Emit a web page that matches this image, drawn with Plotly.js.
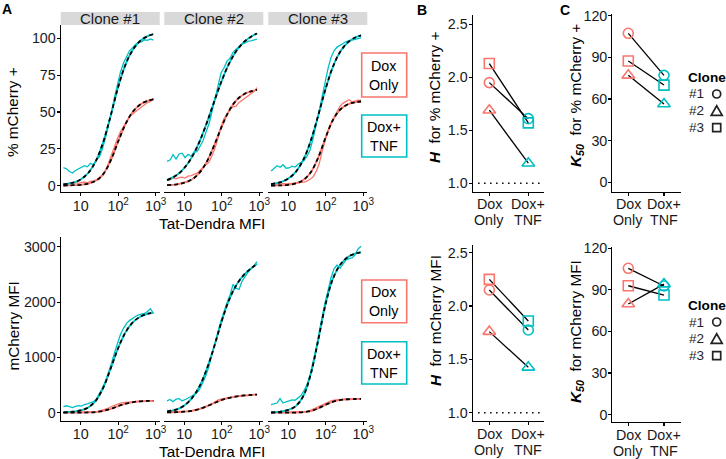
<!DOCTYPE html>
<html>
<head>
<meta charset="utf-8">
<script src="https://cdn.plot.ly/plotly-3.0.1.min.js"></script>
<style>html,body{margin:0;padding:0;background:#fff;}#chart{width:726px;height:459px;}</style>
</head>
<body>
<div id="chart"></div>
<script>
// ---------- DATA ----------
const clones = ['Clone #1', 'Clone #2', 'Clone #3'];
const cloneKeys = ['#1', '#2', '#3'];
const conditions = ['Dox<br>Only', 'Dox+<br>TNF'];
const xTickVals = [1, 2, 3];
const xTickText = ['10', '10<sup>2</sup>', '10<sup>3</sup>'];

// log10(Tat-Dendra MFI) positions of the measured curves
const dataLogMFI = [0.54,0.62,0.70,0.78,0.86,0.94,1.02,1.10,1.18,1.26,1.34,1.42,1.50,1.58,1.66,1.74,1.82,1.90,1.98,2.06,2.14,2.22,2.30,2.38,2.46,2.54,2.62,2.70,2.78,2.86,2.94];
// log10(Tat-Dendra MFI) positions of the fitted curves
const fitLogMFI = [0.54,0.8,1.0,1.2,1.4,1.6,1.8,2.0,2.2,2.4,2.6,2.8,2.94];

// % mCherry+ measured
const pctC1Dox = [1.6,1.2,1.8,1.4,2.0,1.5,2.2,2.4,2.0,2.9,3.2,3.8,4.6,6.8,10.0,15.2,21.2,27.0,32.0,36.5,40.0,43.5,46.8,48.6,50.2,51.5,53.6,54.6,56.4,57.2,59.3];
const pctC1Tnf = [12.2,11.5,9.6,8.6,10.3,11.4,12.2,13.6,12.8,15.2,14.0,17.8,19.6,25.0,32.5,40.8,49.5,59.8,69.0,77.0,83.0,87.5,91.5,93.5,95.8,97.2,97.6,99.0,98.6,99.6,98.8];
const pctC2Dox = [4.5,4.0,5.2,4.6,5.5,5.8,5.2,6.4,6.8,7.5,8.5,10.5,12.5,14.0,16.0,20.5,25.5,32.5,40.0,45.5,49.0,51.5,53.5,54.0,56.5,58.0,59.0,61.0,62.5,63.8,66.5];
const pctC2Tnf = [16.5,17.4,21.0,18.0,21.5,22.0,19.0,21.2,20.0,22.8,23.0,26.5,30.5,36.5,42.0,50.5,58.5,67.5,76.5,80.0,84.5,86.5,90.5,92.5,94.0,96.0,96.8,98.0,98.2,98.8,99.5];
const pctC3Dox = [1.0,0.8,1.3,1.0,1.5,1.2,1.6,1.4,1.8,1.9,2.2,2.4,3.0,4.2,5.8,9.5,14.5,23.0,31.0,37.2,42.5,46.5,50.5,54.0,56.0,57.2,58.3,56.8,57.5,58.0,57.8];
const pctC3Tnf = [10.0,11.5,13.5,12.5,14.2,11.8,12.0,13.2,12.6,14.5,15.8,17.0,20.0,24.2,32.0,40.0,50.0,60.0,70.0,79.5,87.0,91.5,94.0,95.5,96.5,97.8,98.2,98.8,99.2,99.8,100.2];
// % mCherry+ fitted
const fitPctC1Dox = [0.1,0.3,0.6,1.4,3.3,7.8,17,30,42,50.5,55.3,57.7,58.5];
const fitPctC1Tnf = [0.8,2.0,4.2,8.6,16.5,29.5,47.5,67,82.5,92.5,98.5,101.6,102.8];
const fitPctC2Dox = [0.4,0.9,2.0,4.2,8.6,16.3,27.5,40.2,51.1,58.2,62.2,64.2,65.0];
const fitPctC2Tnf = [3.7,7.2,12.0,19.2,29.5,42.6,57.2,71.3,83.1,91.8,97.7,101.4,103.2];
const fitPctC3Dox = [0.1,0.2,0.6,1.5,3.8,9.1,19.2,33.0,45.0,52.0,55.3,56.7,57.1];
const fitPctC3Tnf = [1.0,2.4,4.8,9.4,17.5,30.5,47.8,66.1,81.3,91.5,97.5,100.7,102.0];

// mCherry MFI measured
const mfiC1Dox = [2,3,2,4,3,5,4,6,8,10,14,20,30,45,62,85,112,135,155,172,182,190,198,203,207,210,212,214,215,218,216];
const mfiC1Tnf = [108,125,110,92,115,127,120,148,160,175,199,250,338,445,570,720,890,1080,1265,1415,1526,1610,1665,1710,1740,1767,1775,1795,1830,1880,1790];
const mfiC2Dox = [18,15,20,17,22,20,25,28,35,45,60,78,95,115,135,160,195,228,245,258,265,275,280,285,290,295,300,307,315,325,333];
const mfiC2Tnf = [215,240,200,245,255,215,235,262,285,325,360,440,555,680,845,1065,1284,1470,1665,1850,1990,2128,2320,2250,2230,2380,2470,2540,2600,2660,2730];
const mfiC3Dox = [0,2,1,3,2,3,4,5,6,9,13,18,25,40,65,92,122,148,178,200,215,228,236,242,246,248,249,247,248,248,249];
const mfiC3Tnf = [145,165,175,255,175,195,210,232,225,260,310,400,510,682,895,1160,1445,1740,1990,2210,2440,2600,2670,2611,2700,2765,2785,2800,2852,2960,3010];
// mCherry MFI fitted
const fitMfiC1Dox = [0,1,2,5,12,32,70,120,163,192,206,213,215];
const fitMfiC1Tnf = [6,18,40,95,215,450,800,1170,1460,1640,1740,1790,1810];
const fitMfiC2Dox = [5,10,18,35,65,115,175,230,270,295,312,322,328];
const fitMfiC2Tnf = [25,60,130,260,470,790,1200,1660,2050,2320,2500,2620,2690];
const fitMfiC3Dox = [0,0,1,3,10,30,80,145,200,230,243,248,249];
const fitMfiC3Tnf = [5,20,50,120,300,700,1320,1980,2440,2690,2820,2880,2900];

// Fitted parameters per clone (#1, #2, #3)
const hPctDox = [1.95, 1.69, 2.13];
const hPctTnf = [1.61, 1.19, 1.57];
const k50PctDox = [107.3, 77.0, 87.3];
const k50PctTnf = [77.0, 56.4, 70.0];
const hMfiDox = [2.15, 1.76, 2.25];
const hMfiTnf = [1.775, 1.425, 1.86];
const k50MfiDox = [105.6, 79.8, 93.0];
const k50MfiTnf = [92.8, 94.2, 86.3];

// ---------- STYLE / LAYOUT ----------
const W = 726, H = 459;
const RED = '#F8766D', TEAL = '#00BFC4';
const FONT = 'Liberation Sans, Arial, sans-serif';
const TICK = 14.3, TITLE = 15.3;
const px = v => v / W;
const py = v => 1 - v / H;
const dom = (a, b) => [a / W, b / W];
const domY = (top, bottom) => [1 - bottom / H, 1 - top / H];

const aX = [[60.7, 159.7], [164.3, 263.3], [268.3, 367.3]];
const topY = [25, 192.3], botY = [237, 421];

const traces = [];
const layout = {
  width: W, height: H, autosize: false,
  margin: {l: 0, r: 0, t: 0, b: 0},
  paper_bgcolor: '#fff', plot_bgcolor: 'rgba(0,0,0,0)',
  showlegend: false,
  font: {family: FONT, size: TICK, color: '#1a1a1a'},
  shapes: [], annotations: []
};

const baseAxis = {
  showgrid: false, zeroline: false, showline: true, linecolor: '#000', linewidth: 1.1,
  ticks: 'outside', ticklen: 3, tickwidth: 1.1, tickcolor: '#000', ticklabelstandoff: -2,
  tickfont: {family: FONT, size: TICK, color: '#1a1a1a'}, fixedrange: true
};

const pctData = [[pctC1Dox, pctC1Tnf], [pctC2Dox, pctC2Tnf], [pctC3Dox, pctC3Tnf]];
const pctFit = [[fitPctC1Dox, fitPctC1Tnf], [fitPctC2Dox, fitPctC2Tnf], [fitPctC3Dox, fitPctC3Tnf]];
const mfiData = [[mfiC1Dox, mfiC1Tnf], [mfiC2Dox, mfiC2Tnf], [mfiC3Dox, mfiC3Tnf]];
const mfiFit = [[fitMfiC1Dox, fitMfiC1Tnf], [fitMfiC2Dox, fitMfiC2Tnf], [fitMfiC3Dox, fitMfiC3Tnf]];

function addCurves(xa, ya, data, fit) {
  const cols = [RED, TEAL];
  for (let c = 0; c < 2; c++) {
    traces.push({x: dataLogMFI, y: data[c], xaxis: xa, yaxis: ya, type: 'scatter', mode: 'lines',
      line: {color: cols[c], width: 1.3}, hoverinfo: 'skip'});
  }
  for (let c = 0; c < 2; c++) {
    traces.push({x: fitLogMFI, y: fit[c], xaxis: xa, yaxis: ya, type: 'scatter', mode: 'lines',
      line: {color: cols[c], width: 1.8, shape: 'spline', smoothing: 1}, hoverinfo: 'skip'});
  }
  for (let c = 0; c < 2; c++) {
    traces.push({x: fitLogMFI, y: fit[c], xaxis: xa, yaxis: ya, type: 'scatter', mode: 'lines',
      line: {color: '#000', width: 1.8, dash: '4px,3px', shape: 'spline', smoothing: 1}, hoverinfo: 'skip'});
  }
}

// Panel A subplots: axes 1-3 (top), 4-6 (bottom)
for (let i = 0; i < 3; i++) {
  const nTop = i + 1, nBot = i + 4;
  const xa = 'x' + (nTop === 1 ? '' : nTop), ya = 'y' + (nTop === 1 ? '' : nTop);
  const xb = 'x' + nBot, yb = 'y' + nBot;
  addCurves(xa, ya, pctData[i], pctFit[i]);
  addCurves(xb, yb, mfiData[i], mfiFit[i]);
  const xAxisDef = Object.assign({}, baseAxis, {domain: dom(aX[i][0], aX[i][1]), range: [0.467, 3.107],
    tickmode: 'array', tickvals: xTickVals, ticktext: xTickText, ticklabelstandoff: -3});
  layout['xaxis' + (nTop === 1 ? '' : nTop)] = Object.assign({}, xAxisDef, {anchor: ya});
  layout['xaxis' + nBot] = Object.assign({}, xAxisDef, {anchor: yb});
  const yTop = Object.assign({}, baseAxis, {domain: domY(topY[0], topY[1]), range: [-4.5, 109],
    tickmode: 'array', tickvals: [0, 25, 50, 75, 100], anchor: xa});
  const yBot = Object.assign({}, baseAxis, {domain: domY(botY[0], botY[1]), range: [-150, 3177],
    tickmode: 'array', tickvals: [0, 1000, 2000, 3000], anchor: xb});
  if (i > 0) {
    Object.assign(yTop, {showline: false, ticks: '', showticklabels: false});
    Object.assign(yBot, {showline: false, ticks: '', showticklabels: false});
  }
  layout['yaxis' + (nTop === 1 ? '' : nTop)] = yTop;
  layout['yaxis' + nBot] = yBot;
  // strip
  layout.shapes.push({type: 'rect', xref: 'paper', yref: 'paper', x0: px(aX[i][0]), x1: px(aX[i][1]),
    y0: py(25), y1: py(12), fillcolor: '#D9D9D9', line: {width: 0}, layer: 'below'});
  layout.annotations.push({text: clones[i], xref: 'paper', yref: 'paper', x: px((aX[i][0] + aX[i][1]) / 2),
    y: py(18.7), xanchor: 'center', yanchor: 'middle', showarrow: false, font: {family: FONT, size: 15, color: '#1a1a1a'}});
}

// Panels B and C
const symbols = ['circle-open', 'triangle-up-open', 'square-open'];
const bcPanels = [
  {n: 7, xd: [472.7, 544.3], yd: [15, 191.7], xr: [-0.426, 1.41], yr: [0.921, 2.588], tv: [1, 1.5, 2, 2.5], dox: hPctDox, tnf: hPctTnf, fmt: '.1f', dotted: true},
  {n: 8, xd: [612.3, 681], yd: [14, 191.7], xr: [-0.448, 1.476], yr: [-6.8, 121.2], tv: [0, 30, 60, 90, 120], dox: k50PctDox, tnf: k50PctTnf, fmt: '', dotted: false},
  {n: 9, xd: [472.7, 544.3], yd: [245, 421], xr: [-0.426, 1.41], yr: [0.922, 2.572], tv: [1, 1.5, 2, 2.5], dox: hMfiDox, tnf: hMfiTnf, fmt: '.1f', dotted: true},
  {n: 10, xd: [612.3, 681], yd: [246.7, 422], xr: [-0.448, 1.476], yr: [-5.4, 121.2], tv: [0, 30, 60, 90, 120], dox: k50MfiDox, tnf: k50MfiTnf, fmt: '', dotted: false}
];
bcPanels.forEach(p => {
  const xa = 'x' + p.n, ya = 'y' + p.n;
  layout['xaxis' + p.n] = Object.assign({}, baseAxis, {domain: dom(p.xd[0], p.xd[1]), range: p.xr, type: 'category',
    categoryorder: 'array', categoryarray: conditions, anchor: ya, showticklabels: false});
  layout['yaxis' + p.n] = Object.assign({}, baseAxis, {domain: domY(p.yd[0], p.yd[1]), range: p.yr,
    tickmode: 'array', tickvals: p.tv, tickformat: p.fmt, anchor: xa});
  if (p.dotted) {
    layout.shapes.push({type: 'line', xref: xa + ' domain', yref: ya, x0: 0.075, x1: 0.965, y0: 1, y1: 1,
      line: {color: '#000', width: 1.5, dash: '1.5px,4.5px'}});
  }
  // two-line category labels, placed under each category tick
  conditions.forEach(cond => {
    const parts = cond.split('<br>');
    parts.forEach((part, li) => {
      layout.annotations.push({text: part, xref: xa, yref: 'paper', x: cond, y: py(p.yd[1] + 12.7 + li * 16),
        xanchor: 'center', yanchor: 'middle', showarrow: false, font: {family: FONT, size: TICK, color: '#1a1a1a'}});
    });
  });
  for (let k = 0; k < 3; k++) {
    traces.push({x: conditions, y: [p.dox[k], p.tnf[k]], xaxis: xa, yaxis: ya, type: 'scatter', mode: 'lines+markers',
      line: {color: '#000', width: 1.3},
      marker: {symbol: symbols[k], size: k === 1 ? 11 : 10, color: [RED, TEAL], line: {width: 1.6, color: [RED, TEAL]}},
      hoverinfo: 'skip', cliponaxis: false});
  }
});

// Panel letters
[['A', 7, 9], ['B', 421.5, 10], ['C', 565, 10]].forEach(([t, x, y]) => {
  layout.annotations.push({text: '<b>' + t + '</b>', xref: 'paper', yref: 'paper', x: px(x), y: py(y),
    xanchor: 'center', yanchor: 'middle', showarrow: false, font: {family: FONT, size: 14, color: '#000'}});
});

// Axis titles
function ann(text, x, y, angle, size, extra) {
  layout.annotations.push(Object.assign({text: text, xref: 'paper', yref: 'paper', x: px(x), y: py(y),
    xanchor: 'center', yanchor: 'middle', showarrow: false, textangle: angle || 0,
    font: {family: FONT, size: size || TITLE, color: '#000'}}, extra || {}));
}
ann('% mCherry +', 12.5, 112.5, -90);
ann('mCherry MFI', 12.5, 326, -90);
ann('Tat-Dendra MFI', 212, 223.5, 0);
ann('Tat-Dendra MFI', 212, 451, 0);
ann('<b><i>H</i></b>  for % mCherry +', 435, 98, -90);
ann('<b><i>H</i></b>  for mCherry MFI', 435, 321, -90);
ann('<b><i>K<sub>50</sub></i></b>  for % mCherry +', 576, 96, -90);
ann('<b><i>K<sub>50</sub></i></b>  for mCherry MFI', 576, 332, -90);

// Condition key boxes in panel A
const keyBoxes = [
  {t: 'Dox<br>Only', c: RED, y0: 53, y1: 97},
  {t: 'Dox+<br>TNF', c: TEAL, y0: 115, y1: 157},
  {t: 'Dox<br>Only', c: RED, y0: 280, y1: 322.7},
  {t: 'Dox+<br>TNF', c: TEAL, y0: 341.7, y1: 384}
];
keyBoxes.forEach(b => {
  layout.shapes.push({type: 'rect', xref: 'paper', yref: 'paper', x0: px(361.7), x1: px(406.7), y0: py(b.y1), y1: py(b.y0),
    line: {color: b.c, width: 1.6}, fillcolor: 'rgba(0,0,0,0)'});
  ann(b.t, 384.2, (b.y0 + b.y1) / 2 + 0.5, 0, 14.3);
});

// Clone legends (text + open symbols)
[77, 305].forEach((ly, li) => {
  layout.annotations.push({text: '<b>Clone</b>', xref: 'paper', yref: 'paper', x: px(685.5), y: py(ly),
    xanchor: 'left', yanchor: 'middle', showarrow: false, font: {family: FONT, size: 13.6, color: '#000'}});
  const gap = 16.8;
  for (let k = 0; k < 3; k++) {
    const cy = ly + 17 + k * gap;
    layout.annotations.push({text: cloneKeys[k], xref: 'paper', yref: 'paper', x: px(686.5), y: py(cy),
      xanchor: 'left', yanchor: 'middle', showarrow: false, font: {family: FONT, size: 13.5, color: '#222'}});
    const cx = 716.7;
    const ln = {color: '#222', width: 1.7};
    if (k === 0) {
      layout.shapes.push({type: 'circle', xref: 'paper', yref: 'paper', x0: px(cx - 4), x1: px(cx + 4), y0: py(cy + 4), y1: py(cy - 4), line: ln});
    } else if (k === 1) {
      const path = 'M ' + px(cx - 5.5) + ' ' + py(cy + 4.5) + ' L ' + px(cx + 5.5) + ' ' + py(cy + 4.5) + ' L ' + px(cx) + ' ' + py(cy - 5) + ' Z';
      layout.shapes.push({type: 'path', xref: 'paper', yref: 'paper', path: path, line: ln});
    } else {
      layout.shapes.push({type: 'rect', xref: 'paper', yref: 'paper', x0: px(cx - 4), x1: px(cx + 4), y0: py(cy + 4), y1: py(cy - 4), line: ln});
    }
  }
});

Plotly.newPlot('chart', traces, layout, {staticPlot: true, displayModeBar: false});
</script>
</body>
</html>
